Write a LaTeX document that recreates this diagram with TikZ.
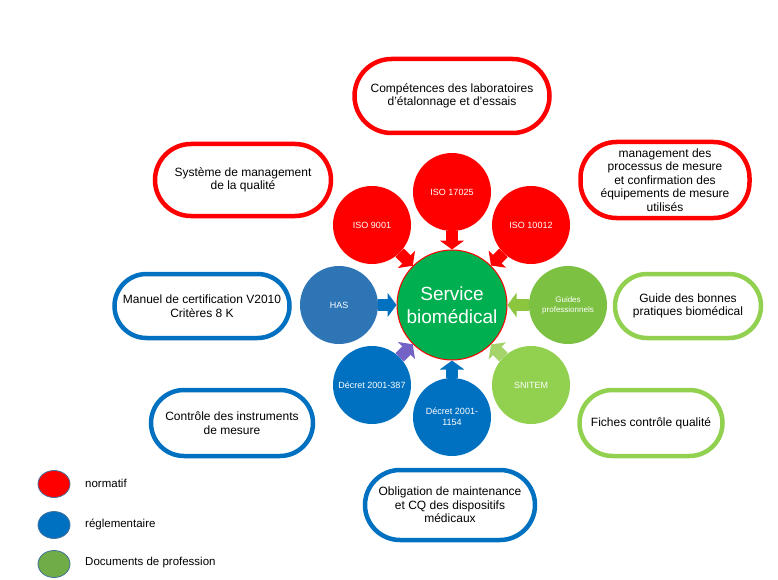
\documentclass[tikz,border=0pt]{standalone}
\usepackage{fontspec}
\setmainfont{Liberation Sans}
\usetikzlibrary{arrows.meta,shapes.geometric}
\definecolor{cred}{HTML}{FF0000}
\definecolor{chas}{HTML}{2E75B6}
\definecolor{cdec}{HTML}{0070C0}
\definecolor{cguide}{HTML}{7DC142}
\definecolor{csnit}{HTML}{92D050}
\definecolor{ccenter}{HTML}{00B050}
\definecolor{cgreenbox}{HTML}{92D050}
\definecolor{clegg}{HTML}{70AD47}
\definecolor{clegb}{HTML}{41719C}
\definecolor{cpurple}{HTML}{7462C6}
\definecolor{cgarrow}{HTML}{8CC63F}
\definecolor{csarrow}{HTML}{A4D46A}
\tikzset{
  tbox/.style={draw=#1, line width=4.5pt, fill=white, rounded corners=34pt, align=center,
     font=\fontsize{12}{13.6}\selectfont, inner sep=0pt},
  small/.style={circle, fill=#1, minimum size=78pt, inner sep=0pt, text=white, align=center,
     font=\fontsize{9}{11}\selectfont},
  barrow/.style={line width=12pt, draw=#1, -{Triangle[width=24pt,length=9pt]}},
  legell/.style={ellipse, draw=clegb, line width=0.8pt, fill=#1, minimum width=32pt, minimum height=27pt, inner sep=0pt},
  legtxt/.style={anchor=west, font=\fontsize{11.5}{13}\selectfont, inner sep=0pt}
}
\begin{document}
\begin{tikzpicture}[x=1pt,y=-1pt]
\useasboundingbox (0,0) rectangle (778,580);
% center
\node[circle, fill=ccenter, draw=cred, line width=1pt, minimum size=110pt, inner sep=0pt, text=white, align=center,
  font=\fontsize{19}{23}\selectfont] (c) at (452,305) {Service\\biomédical};
% small circles
\node[small=cred] (iso17) at (452,192) {ISO 17025};
\node[small=cred] (iso9) at (372,225) {ISO 9001};
\node[small=cred] (iso10) at (531,225) {ISO 10012};
\node[small=chas] (has) at (339,305) {HAS};
\node[small=cguide, font=\fontsize{8}{10}\selectfont] (guides) at (568,305) {Guides\\professionnels};
\node[small=cdec] (d387) at (372,385) {Décret 2001-387};
\node[small=cdec] (d1154) at (452,417) {Décret 2001-\\1154};
\node[small=csnit] (snit) at (531,385) {SNITEM};
% arrows
\draw[barrow=cred] (iso17) -- (c);
\draw[barrow=cred] (iso9) -- (c);
\draw[barrow=cred] (iso10) -- (c);
\draw[barrow=cdec] (has) -- (c);
\draw[barrow=cgarrow] (guides) -- (c);
\draw[barrow=cpurple] (d387) -- (c);
\draw[barrow=cdec] (d1154) -- (c);
\draw[barrow=csarrow] (snit) -- (c);
% text boxes
\node[tbox=cred, minimum width=195pt, minimum height=74pt, rounded corners=37pt] (b1) at (452,96) {Compétences des laboratoires\\d’étalonnage et d’essais};
\node[tbox=cred, minimum width=176pt, minimum height=72pt, rounded corners=36pt] (b2) at (243,180) {Système de management\\de la qualité};
\node[tbox=cred, minimum width=169pt, minimum height=76pt, rounded corners=36pt] (b3) at (665,180) {management des\\processus de mesure\\et confirmation des\\équipements de mesure\\utilisés};
\node[tbox=cdec, minimum width=175pt, minimum height=64pt, rounded corners=32pt] (b4) at (202,306) {Manuel de certification V2010\\Critères 8 K};
\node[tbox=cgreenbox, minimum width=146pt, minimum height=64pt, rounded corners=32pt] (b5) at (688,306) {Guide des bonnes\\pratiques biomédical};
\node[tbox=cdec, minimum width=162pt, minimum height=66pt, rounded corners=33pt] (b6) at (232,423) {Contrôle des instruments\\de mesure};
\node[tbox=cgreenbox, minimum width=143pt, minimum height=66pt, rounded corners=33pt] (b7) at (651,423) {Fiches contrôle qualité};
\node[tbox=cdec, minimum width=170pt, minimum height=70pt, rounded corners=35pt] (b8) at (450,505) {Obligation de maintenance\\et CQ des dispositifs\\médicaux};
% legend
\node[legell=cred] (l1) at (54,484) {};
\node[legell=cdec] (l2) at (54,525) {};
\node[legell=clegg] (l3) at (54,564) {};
\node[legtxt] (t1) at (85,483) {normatif};
\node[legtxt] (t2) at (85,524) {réglementaire};
\node[legtxt] (t3) at (85,563) {Documents de profession};
\end{tikzpicture}
\end{document}
